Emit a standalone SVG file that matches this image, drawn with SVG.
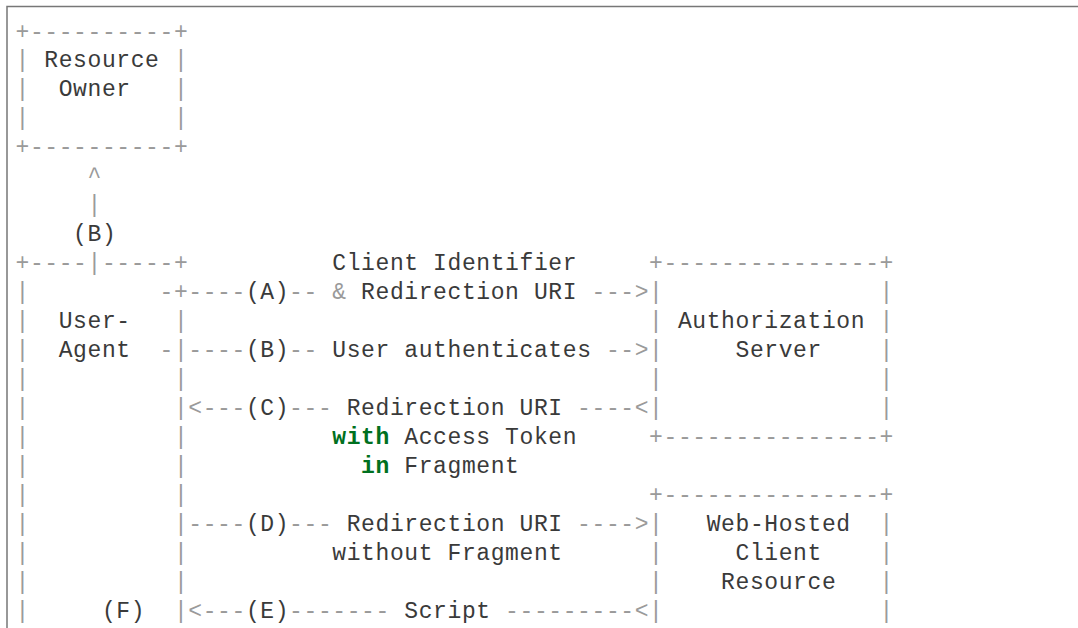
<svg xmlns="http://www.w3.org/2000/svg" width="1078" height="628" viewBox="0 0 1078 628">
<style>
text{font-family:"Liberation Mono","DejaVu Sans Mono",monospace;font-size:23px;letter-spacing:0.6px;white-space:pre}
.t{fill:#3a3a3a}
.o{fill:#9a9a9a}
.k{fill:#007020;font-weight:bold}
.frame{fill:none;stroke:#777777;stroke-width:1.5}
</style>
<rect width="1078" height="628" fill="#ffffff"/>
<path class="frame" d="M7,628 V6.5 H1078"/>
<g id="resource-owner">
<text class="o" x="15.5" y="38.5">+----------+</text>
<text class="o" x="15.5" y="67.45">|</text><text class="o" x="173.9" y="67.45">|</text>
<text class="o" x="15.5" y="96.4">|</text><text class="o" x="173.9" y="96.4">|</text>
<text class="o" x="15.5" y="125.35">|</text><text class="o" x="173.9" y="125.35">|</text>
<text class="o" x="15.5" y="154.3">+----------+</text>
<text class="t" x="44.3" y="67.45">Resource</text>
<text class="t" x="58.7" y="96.4">Owner</text>
</g>
<g id="user-agent">
<text class="o" x="15.5" y="270.1">+----</text><text class="o" x="101.9" y="270.1">-----+</text>
<text class="o" x="15.5" y="299.05">|</text><text class="o" x="173.9" y="299.05">+</text>
<text class="o" x="15.5" y="328">|</text><text class="o" x="173.9" y="328">|</text>
<text class="o" x="15.5" y="356.95">|</text><text class="o" x="173.9" y="356.95">|</text>
<text class="o" x="15.5" y="385.9">|</text><text class="o" x="173.9" y="385.9">|</text>
<text class="o" x="15.5" y="414.85">|</text><text class="o" x="173.9" y="414.85">|</text>
<text class="o" x="15.5" y="443.8">|</text><text class="o" x="173.9" y="443.8">|</text>
<text class="o" x="15.5" y="472.75">|</text><text class="o" x="173.9" y="472.75">|</text>
<text class="o" x="15.5" y="501.7">|</text><text class="o" x="173.9" y="501.7">|</text>
<text class="o" x="15.5" y="530.65">|</text><text class="o" x="173.9" y="530.65">|</text>
<text class="o" x="15.5" y="559.6">|</text><text class="o" x="173.9" y="559.6">|</text>
<text class="o" x="15.5" y="588.55">|</text><text class="o" x="173.9" y="588.55">|</text>
<text class="o" x="15.5" y="617.5">|</text><text class="o" x="173.9" y="617.5">|</text>
<text class="t" x="58.7" y="328">User-</text>
<text class="t" x="58.7" y="356.95">Agent</text>
</g>
<g id="authorization-server">
<text class="o" x="649.1" y="270.1">+---------------+</text>
<text class="o" x="649.1" y="299.05">|</text><text class="o" x="879.5" y="299.05">|</text>
<text class="o" x="649.1" y="328">|</text><text class="o" x="879.5" y="328">|</text>
<text class="o" x="649.1" y="356.95">|</text><text class="o" x="879.5" y="356.95">|</text>
<text class="o" x="649.1" y="385.9">|</text><text class="o" x="879.5" y="385.9">|</text>
<text class="o" x="649.1" y="414.85">|</text><text class="o" x="879.5" y="414.85">|</text>
<text class="o" x="649.1" y="443.8">+---------------+</text>
<text class="t" x="677.9" y="328">Authorization</text>
<text class="t" x="735.5" y="356.95">Server</text>
</g>
<g id="web-hosted-client-resource">
<text class="o" x="649.1" y="501.7">+---------------+</text>
<text class="o" x="649.1" y="530.65">|</text><text class="o" x="879.5" y="530.65">|</text>
<text class="o" x="649.1" y="559.6">|</text><text class="o" x="879.5" y="559.6">|</text>
<text class="o" x="649.1" y="588.55">|</text><text class="o" x="879.5" y="588.55">|</text>
<text class="o" x="649.1" y="617.5">|</text><text class="o" x="879.5" y="617.5">|</text>
<text class="t" x="706.7" y="530.65">Web-Hosted</text>
<text class="t" x="735.5" y="559.6">Client</text>
<text class="t" x="721.1" y="588.55">Resource</text>
</g>
<g id="connectors">
<text class="o" x="87.5" y="183.25">^</text>
<text class="o" x="87.5" y="212.2">|</text>
<text class="t" x="73.1" y="241.15">(B)</text>
<text class="o" x="87.5" y="270.1">|</text>
<text class="t" x="332.3" y="270.1">Client Identifier</text>
<text class="o" x="159.5" y="299.05">-</text><text class="o" x="188.3" y="299.05">----</text><text class="t" x="245.9" y="299.05">(A)</text><text class="o" x="289.1" y="299.05">--</text><text class="o" x="332.3" y="299.05">&amp;</text><text class="t" x="361.1" y="299.05">Redirection URI</text><text class="o" x="591.5" y="299.05">---&gt;</text>
<text class="o" x="159.5" y="356.95">-</text><text class="o" x="188.3" y="356.95">----</text><text class="t" x="245.9" y="356.95">(B)</text><text class="o" x="289.1" y="356.95">--</text><text class="t" x="332.3" y="356.95">User authenticates</text><text class="o" x="605.9" y="356.95">--&gt;</text>
<text class="o" x="188.3" y="414.85">&lt;---</text><text class="t" x="245.9" y="414.85">(C)</text><text class="o" x="289.1" y="414.85">---</text><text class="t" x="346.7" y="414.85">Redirection URI</text><text class="o" x="577.1" y="414.85">----&lt;</text>
<text class="k" x="332.3" y="443.8">with</text><text class="t" x="404.3" y="443.8">Access Token</text>
<text class="k" x="361.1" y="472.75">in</text><text class="t" x="404.3" y="472.75">Fragment</text>
<text class="o" x="188.3" y="530.65">----</text><text class="t" x="245.9" y="530.65">(D)</text><text class="o" x="289.1" y="530.65">---</text><text class="t" x="346.7" y="530.65">Redirection URI</text><text class="o" x="577.1" y="530.65">----&gt;</text>
<text class="t" x="332.3" y="559.6">without Fragment</text>
<text class="t" x="101.9" y="617.5">(F)</text><text class="o" x="188.3" y="617.5">&lt;---</text><text class="t" x="245.9" y="617.5">(E)</text><text class="o" x="289.1" y="617.5">-------</text><text class="t" x="404.3" y="617.5">Script</text><text class="o" x="505.1" y="617.5">---------&lt;</text>
</g>
</svg>
